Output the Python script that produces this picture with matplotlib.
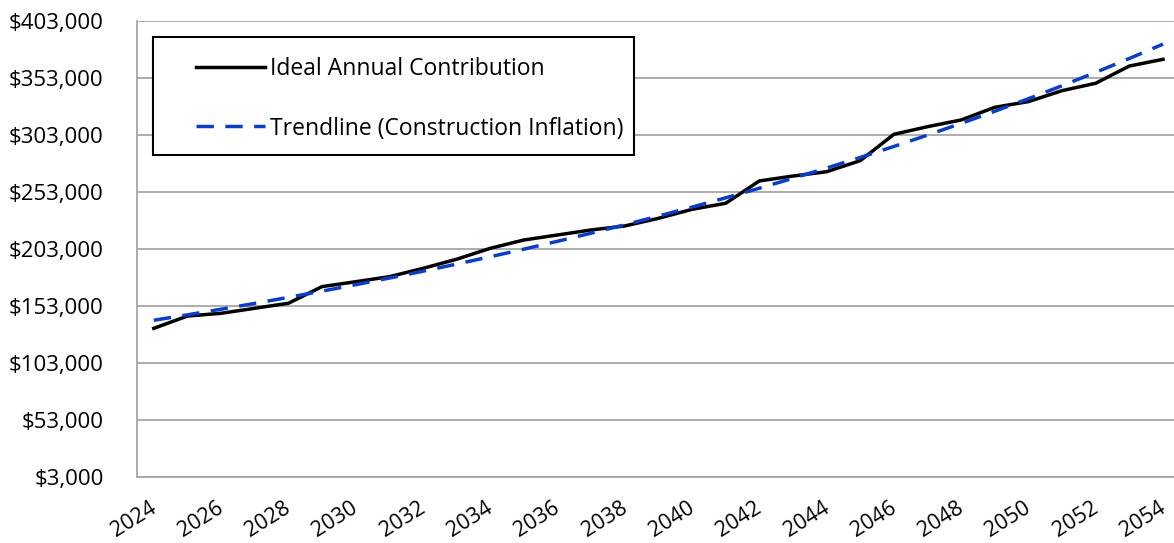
import numpy as np
import matplotlib
matplotlib.use("Agg")
import matplotlib.pyplot as plt
from matplotlib.patches import Rectangle
from matplotlib.ticker import FuncFormatter
import matplotlib.transforms as mtransforms

years = list(range(2024, 2055))
ideal_contribution = [
    133400, 144200, 146600, 151000, 155400, 170000, 174300, 178700, 186000, 194000,
    203600, 210900, 215300, 219700, 223200, 229900, 237800, 243100, 262700, 267000,
    270800, 280500, 303600, 310300, 316200, 327300, 332300, 341900, 348400, 363500,
    369400,
]
series_labels = ["Ideal Annual Contribution", "Trendline (Construction Inflation)"]
y_ticks = [3000, 53000, 103000, 153000, 203000, 253000, 303000, 353000, 403000]

# Exponential trendline fitted to the data (as Excel's exponential trendline)
x_idx = np.arange(len(years))
b, a = np.polyfit(x_idx, np.log(ideal_contribution), 1)
trend = np.exp(a + b * x_idx)

plt.rcParams['font.family'] = ['Open Sans', 'DejaVu Sans']
W, H = 1174, 543
fig = plt.figure(figsize=(W / 100, H / 100), dpi=100)
ax = fig.add_axes([137 / W, 1 - 477 / H, (1174 - 137) / W, (477 - 21) / H])

ax.plot(x_idx, ideal_contribution, color='black', lw=2.5, solid_joinstyle='round',
        label=series_labels[0], zorder=3)
ax.plot(x_idx, trend, color='#0a3ec6', lw=2.5, linestyle=(0, (5, 3.3)),
        dash_capstyle='butt', label=series_labels[1], zorder=4)

ax.set_ylim(y_ticks[0], y_ticks[-1])
ax.set_yticks(y_ticks)
ax.yaxis.set_major_formatter(FuncFormatter(lambda v, p: f"${int(v):,}"))
ax.set_xlim(-0.5, 30 + (1174 - 1163) / 33.65)
ax.set_xticks(x_idx[::2])
ax.set_xticklabels([str(y) for y in years[::2]])

ax.grid(axis='y', color='#a6a6a6', lw=1.3)
ax.set_axisbelow(True)
for s in ['top', 'right']:
    ax.spines[s].set_visible(False)
for s in ['left', 'bottom']:
    ax.spines[s].set_color('#a6a6a6')
    ax.spines[s].set_linewidth(1.3)
ax.tick_params(axis='both', length=0, labelsize=16)
ax.tick_params(axis='y', pad=24)

offset = mtransforms.ScaledTranslation(-5 / 100, -16 / 100, fig.dpi_scale_trans)
for lbl in ax.get_xticklabels():
    lbl.set_rotation(32)
    lbl.set_ha('right')
    lbl.set_va('top')
    lbl.set_rotation_mode('anchor')
    lbl.set_fontsize(15.5)
    lbl.set_transform(lbl.get_transform() + offset)

# Legend box
fig.patches.append(Rectangle((153 / W, 1 - 155 / H), (634 - 153) / W, (155 - 37) / H,
                             transform=fig.transFigure, fill=True, facecolor='white',
                             edgecolor='black', lw=1.5, zorder=5))
leg = fig.legend(loc='upper left', bbox_to_anchor=(196 / W, 1 - 57 / H),
                 bbox_transform=fig.transFigure, frameon=False, fontsize=16.5,
                 handlelength=3.0, handletextpad=0.25, labelspacing=1.55,
                 borderpad=0, borderaxespad=0)
leg.set_zorder(6)

fig.savefig('out.png', dpi=100)
